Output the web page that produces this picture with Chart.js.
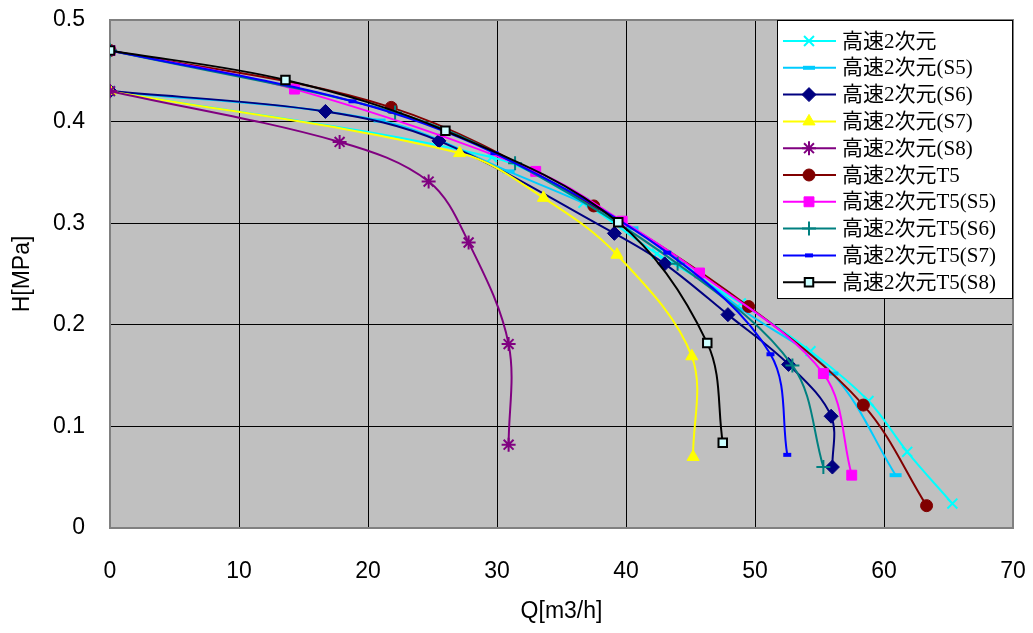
<!DOCTYPE html>
<html>
<head>
<meta charset="utf-8">
<script src="https://cdn.jsdelivr.net/npm/chart.js@4.4.1/dist/chart.umd.min.js"></script>
<style>
  html, body { margin: 0; padding: 0; background: #fff; }
  #wrap { width: 1033px; height: 633px; }
</style>
</head>
<body>
<div id="wrap"><canvas id="grafico" width="1033" height="633"></canvas></div>
<script>
// nomes das series (legenda)
const nomes = [
  "高速2次元", "高速2次元(S5)", "高速2次元(S6)", "高速2次元(S7)", "高速2次元(S8)",
  "高速2次元T5", "高速2次元T5(S5)", "高速2次元T5(S6)", "高速2次元T5(S7)", "高速2次元T5(S8)"
]

// Q [m3/h] e H [MPa]
const q1 = [0, 29.6, 36.7, 42.4, 48.9, 54.3, 58.8, 61.8, 65.3]
const h1 = [0.43, 0.365, 0.320, 0.270, 0.221, 0.174, 0.125, 0.075, 0.024]
const q2 = [0, 20.9, 30.9, 40.5, 49, 56.0, 60.9]
const h2 = [0.43, 0.401, 0.351, 0.295, 0.215, 0.152, 0.052]
const q3 = [0, 16.7, 25.5, 39.1, 43.0, 47.9, 52.6, 55.9, 56.0]
const h3 = [0.43, 0.410, 0.381, 0.290, 0.260, 0.210, 0.161, 0.110, 0.060]
const q4 = [0, 27.1, 33.6, 39.3, 45.1, 45.2]
const h4 = [0.43, 0.369, 0.325, 0.269, 0.169, 0.070]
const q5 = [0, 17.8, 24.7, 27.8, 30.9, 30.9]
const h5 = [0.43, 0.380, 0.341, 0.281, 0.181, 0.082]
const q6 = [0, 21.8, 37.5, 49.5, 58.4, 63.3]
const h6 = [0.47, 0.414, 0.317, 0.218, 0.121, 0.022]
const q7 = [0, 14.3, 33.0, 39.7, 45.7, 55.3, 57.5]
const h7 = [0.47, 0.432, 0.351, 0.302, 0.251, 0.152, 0.052]
const q8 = [0, 22.1, 31.4, 44.0, 52.9, 55.3]
const h8 = [0.47, 0.409, 0.359, 0.260, 0.160, 0.060]
const q9 = [0, 18.8, 29.8, 43.2, 51.2, 52.5]
const h9 = [0.47, 0.420, 0.369, 0.271, 0.171, 0.072]
const q10 = [0, 13.6, 26.0, 39.4, 46.3, 47.5]
const h10 = [0.47, 0.441, 0.391, 0.301, 0.182, 0.084]

const xTicks = [0, 10, 20, 30, 40, 50, 60, 70]
const yTicks = [0, 0.1, 0.2, 0.3, 0.4, 0.5]

const todosQ = [q1, q2, q3, q4, q5, q6, q7, q8, q9, q10]
const todosH = [h1, h2, h3, h4, h5, h6, h7, h8, h9, h10]

// estilo de cada serie
const estilos = [
  { cor: "#00FFFF", fundo: "#00FFFF", ponto: "crossRot", raio: 7, bw: 2 },
  { cor: "#00CCFF", fundo: "#00CCFF", ponto: "line", raio: 6, bw: 4 },
  { cor: "#000080", fundo: "#000080", ponto: "rectRot", raio: 7, bw: 1 },
  { cor: "#FFFF00", fundo: "#FFFF00", ponto: "triangle", raio: 7, bw: 1 },
  { cor: "#800080", fundo: "#800080", ponto: "star", raio: 7, bw: 2 },
  { cor: "#800000", fundo: "#800000", ponto: "circle", raio: 6, bw: 1 },
  { cor: "#FF00FF", fundo: "#FF00FF", ponto: "rect", raio: 7, bw: 1 },
  { cor: "#008080", fundo: "#008080", ponto: "cross", raio: 7, bw: 2 },
  { cor: "#0000FF", fundo: "#0000FF", ponto: "line", raio: 4, bw: 4 },
  { cor: "#000000", fundo: "#CCFFFF", ponto: "rect", raio: 6, bw: 2 }
]

const datasets = nomes.map((nome, i) => {
  const e = estilos[i]
  return {
    label: nome,
    data: todosQ[i].map((q, k) => ({ x: q, y: todosH[i][k] })),
    showLine: true,
    tension: 0.35,
    borderColor: e.cor,
    borderWidth: 2,
    backgroundColor: e.fundo,
    pointStyle: e.ponto,
    pointRadius: e.raio,
    pointBorderColor: e.cor,
    pointBackgroundColor: e.fundo,
    pointBorderWidth: e.bw,
    order: 10 - i
  }
})

// fundo cinza + borda da area do grafico
const fundoPlot = {
  id: "fundoPlot",
  beforeDraw(chart) {
    const { ctx, chartArea: a } = chart
    ctx.save()
    ctx.fillStyle = "#C0C0C0"
    ctx.fillRect(a.left, a.top, a.right - a.left, a.bottom - a.top)
    ctx.restore()
  },
  beforeDatasetsDraw(chart) {
    const { ctx, chartArea: a } = chart
    ctx.save()
    ctx.strokeStyle = "#808080"
    ctx.lineWidth = 2
    ctx.strokeRect(a.left, a.top, a.right - a.left, a.bottom - a.top)
    ctx.restore()
  }
}

// legenda desenhada por cima do grafico
const legendaCaixa = {
  id: "legendaCaixa",
  afterDraw(chart) {
    const ctx = chart.ctx
    const x0 = 777, y0 = 20, w = 235, h = 278
    ctx.save()
    ctx.fillStyle = "#fff"
    ctx.fillRect(x0, y0, w, h)
    ctx.strokeStyle = "#000"
    ctx.lineWidth = 1
    ctx.strokeRect(x0 + 0.5, y0 + 0.5, w, h)
    ctx.font = '21px "Liberation Serif", "Noto Sans CJK JP"'
    ctx.textBaseline = "middle"
    nomes.forEach((nome, i) => {
      const e = estilos[i]
      const y = 41 + i * 26.8
      ctx.strokeStyle = e.cor
      ctx.lineWidth = 2
      ctx.beginPath()
      ctx.moveTo(783, y)
      ctx.lineTo(836, y)
      ctx.stroke()
      ctx.fillStyle = e.fundo
      ctx.strokeStyle = e.cor
      ctx.lineWidth = e.bw
      Chart.helpers.drawPoint(ctx, { pointStyle: e.ponto, radius: e.raio, rotation: 0, borderWidth: e.bw }, 809, y)
      ctx.fillStyle = "#000"
      ctx.fillText(nome, 842, y + 1)
    })
    ctx.restore()
  }
}

const ctx = document.getElementById("grafico")
new Chart(ctx, {
  type: "scatter",
  data: { datasets: datasets },
  options: {
    responsive: false,
    animation: false,
    layout: { padding: { top: 20, right: 20, left: 0, bottom: 0 } },
    plugins: { legend: { display: false }, tooltip: { enabled: false } },
    scales: {
      x: {
        type: "linear",
        min: 0, max: 70,
        afterBuildTicks: s => { s.ticks = xTicks.map(v => ({ value: v })) },
        afterFit: s => { s.height = 105; s.paddingLeft = 0; s.paddingRight = 0 },
        grid: { color: "#000", lineWidth: 1, drawTicks: false },
        border: { color: "#404040", width: 2 },
        ticks: { color: "#000", padding: 30, font: { family: "Liberation Sans", size: 23 } },
        title: { display: true, text: "Q[m3/h]", color: "#000", padding: { top: 0, bottom: 8 }, font: { family: "Liberation Sans", size: 23 } }
      },
      y: {
        type: "linear",
        min: 0, max: 0.5,
        afterBuildTicks: s => { s.ticks = yTicks.map(v => ({ value: v })) },
        afterFit: s => { s.width = 110; s.paddingTop = 0; s.paddingBottom = 0 },
        grid: { color: "#000", lineWidth: 1, drawTicks: false },
        border: { color: "#404040", width: 2 },
        ticks: { color: "#000", padding: 25, font: { family: "Liberation Sans", size: 23 }, callback: v => String(Math.round(v * 10) / 10) },
        title: { display: true, text: "H[MPa]", color: "#000", padding: { top: 9, bottom: 0 }, font: { family: "Liberation Sans", size: 23 } }
      }
    }
  },
  plugins: [fundoPlot, legendaCaixa]
})
</script>
</body>
</html>
